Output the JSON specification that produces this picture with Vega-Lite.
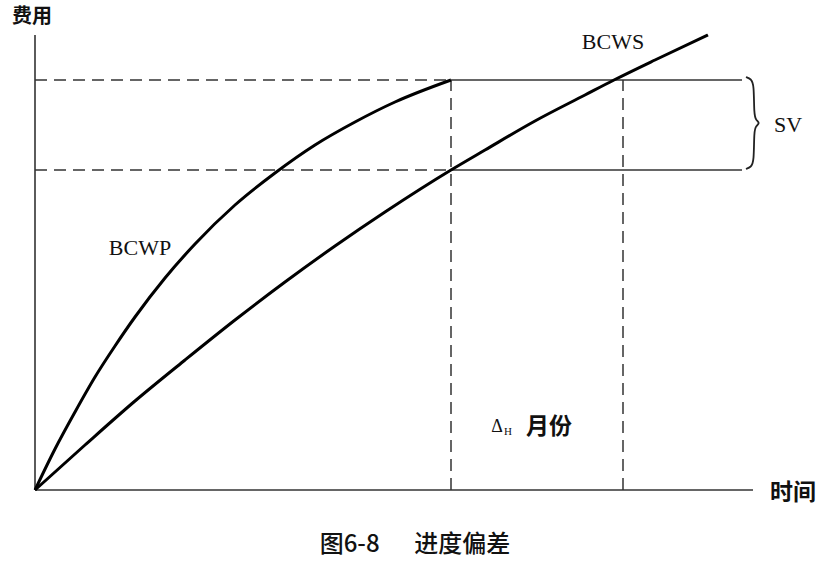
{
  "$schema": "https://vega.github.io/schema/vega-lite/v6.json",
  "width": 830,
  "height": 565,
  "padding": 0,
  "autosize": {"type": "none"},
  "background": "white",
  "config": {"view": {"stroke": null}},
  "datasets": {
    "axes": [
      {"x": 0, "y": 0, "x2": 0, "y2": 455},
      {"x": 0, "y": 0, "x2": 718, "y2": 0}
    ],
    "dashed": [
      {"x": 0, "y": 410, "x2": 416, "y2": 410},
      {"x": 0, "y": 320, "x2": 416, "y2": 320},
      {"x": 416, "y": 0, "x2": 416, "y2": 410},
      {"x": 588, "y": 0, "x2": 588, "y2": 410}
    ],
    "solid": [
      {"x": 416, "y": 410, "x2": 707, "y2": 410},
      {"x": 416, "y": 320, "x2": 707, "y2": 320}
    ],
    "curves": [
      {"series": "BCWP", "t": 0, "cost": 0},
      {"series": "BCWP", "t": 20, "cost": 41},
      {"series": "BCWP", "t": 40, "cost": 78},
      {"series": "BCWP", "t": 60, "cost": 113},
      {"series": "BCWP", "t": 80, "cost": 144},
      {"series": "BCWP", "t": 100, "cost": 173},
      {"series": "BCWP", "t": 130, "cost": 212},
      {"series": "BCWP", "t": 160, "cost": 246},
      {"series": "BCWP", "t": 200, "cost": 285},
      {"series": "BCWP", "t": 240, "cost": 317},
      {"series": "BCWP", "t": 280, "cost": 345},
      {"series": "BCWP", "t": 320, "cost": 368},
      {"series": "BCWP", "t": 360, "cost": 388},
      {"series": "BCWP", "t": 416, "cost": 410},
      {"series": "BCWS", "t": 0, "cost": 0},
      {"series": "BCWS", "t": 50, "cost": 45},
      {"series": "BCWS", "t": 100, "cost": 89},
      {"series": "BCWS", "t": 150, "cost": 130},
      {"series": "BCWS", "t": 200, "cost": 170},
      {"series": "BCWS", "t": 250, "cost": 208},
      {"series": "BCWS", "t": 300, "cost": 244},
      {"series": "BCWS", "t": 350, "cost": 278},
      {"series": "BCWS", "t": 416, "cost": 320},
      {"series": "BCWS", "t": 450, "cost": 340},
      {"series": "BCWS", "t": 500, "cost": 369},
      {"series": "BCWS", "t": 550, "cost": 395},
      {"series": "BCWS", "t": 579, "cost": 410},
      {"series": "BCWS", "t": 620, "cost": 430},
      {"series": "BCWS", "t": 673, "cost": 455}
    ],
    "brace": [
      {"i": 0, "x": 711, "y": 413},
      {"i": 1, "x": 716, "y": 411},
      {"i": 2, "x": 719, "y": 406},
      {"i": 3, "x": 719, "y": 375},
      {"i": 4, "x": 721, "y": 370},
      {"i": 5, "x": 725, "y": 367},
      {"i": 6, "x": 721, "y": 364},
      {"i": 7, "x": 719, "y": 359},
      {"i": 8, "x": 719, "y": 328},
      {"i": 9, "x": 716, "y": 323},
      {"i": 10, "x": 711, "y": 321}
    ],
    "serifLabels": [
      {"x": 105, "y": 242, "label": "BCWP"},
      {"x": 578, "y": 448, "label": "BCWS"},
      {"x": 753, "y": 365, "label": "SV"}
    ],
    "yTitle": [{"x": -3, "y": 473, "label": "费用"}],
    "cjkLabels": [
      {"x": 758, "y": -3, "label": "时间"},
      {"x": 514, "y": 63, "label": "月份"}
    ],
    "delta": [{"x": 462, "y": 63, "label": "Δ"}],
    "sub": [{"x": 473, "y": 58, "label": "H"}],
    "caption": [{"x": 380, "y": -55, "label": "图6-8\u3000\u00a0\u00a0进度偏差"}]
  },
  "layer": [
    {
      "data": {"name": "axes"},
      "mark": {"type": "rule", "color": "#333", "strokeWidth": 1.6},
      "encoding": {
        "x": {"field": "x", "type": "quantitative", "scale": {"domain": [-35, 795], "nice": false, "zero": false}, "axis": null},
        "y": {"field": "y", "type": "quantitative", "scale": {"domain": [-75, 490], "nice": false, "zero": false}, "axis": null},
        "x2": {"field": "x2"},
        "y2": {"field": "y2"}
      }
    },
    {
      "data": {"name": "dashed"},
      "mark": {"type": "rule", "color": "#333", "strokeWidth": 1.5, "strokeDash": [12, 7]},
      "encoding": {
        "x": {"field": "x", "type": "quantitative"},
        "y": {"field": "y", "type": "quantitative"},
        "x2": {"field": "x2"},
        "y2": {"field": "y2"}
      }
    },
    {
      "data": {"name": "solid"},
      "mark": {"type": "rule", "color": "#333", "strokeWidth": 1.5},
      "encoding": {
        "x": {"field": "x", "type": "quantitative"},
        "y": {"field": "y", "type": "quantitative"},
        "x2": {"field": "x2"},
        "y2": {"field": "y2"}
      }
    },
    {
      "data": {"name": "curves"},
      "mark": {"type": "line", "color": "#000", "strokeWidth": 3, "interpolate": "monotone"},
      "encoding": {
        "x": {"field": "t", "type": "quantitative"},
        "y": {"field": "cost", "type": "quantitative"},
        "detail": {"field": "series"}
      }
    },
    {
      "data": {"name": "brace"},
      "mark": {"type": "line", "color": "#222", "strokeWidth": 1.8, "interpolate": "basis"},
      "encoding": {
        "x": {"field": "x", "type": "quantitative"},
        "y": {"field": "y", "type": "quantitative"},
        "order": {"field": "i", "type": "quantitative"}
      }
    },
    {
      "data": {"name": "serifLabels"},
      "mark": {"type": "text", "font": "Liberation Serif", "fontSize": 22, "color": "#111", "align": "center", "baseline": "middle"},
      "encoding": {
        "x": {"field": "x", "type": "quantitative"},
        "y": {"field": "y", "type": "quantitative"},
        "text": {"field": "label"}
      }
    },
    {
      "data": {"name": "yTitle"},
      "mark": {"type": "text", "font": "Noto Sans CJK SC", "fontSize": 20, "fontWeight": "bold", "color": "#111", "align": "center", "baseline": "middle"},
      "encoding": {
        "x": {"field": "x", "type": "quantitative"},
        "y": {"field": "y", "type": "quantitative"},
        "text": {"field": "label"}
      }
    },
    {
      "data": {"name": "cjkLabels"},
      "mark": {"type": "text", "font": "Noto Sans CJK SC", "fontSize": 23, "fontWeight": "bold", "color": "#111", "align": "center", "baseline": "middle"},
      "encoding": {
        "x": {"field": "x", "type": "quantitative"},
        "y": {"field": "y", "type": "quantitative"},
        "text": {"field": "label"}
      }
    },
    {
      "data": {"name": "delta"},
      "mark": {"type": "text", "font": "Liberation Serif", "fontSize": 18, "color": "#111", "align": "center", "baseline": "middle"},
      "encoding": {
        "x": {"field": "x", "type": "quantitative"},
        "y": {"field": "y", "type": "quantitative"},
        "text": {"field": "label"}
      }
    },
    {
      "data": {"name": "sub"},
      "mark": {"type": "text", "font": "Liberation Serif", "fontSize": 11, "color": "#111", "align": "center", "baseline": "middle"},
      "encoding": {
        "x": {"field": "x", "type": "quantitative"},
        "y": {"field": "y", "type": "quantitative"},
        "text": {"field": "label"}
      }
    },
    {
      "data": {"name": "caption"},
      "mark": {"type": "text", "font": "Noto Sans CJK SC", "fontSize": 24, "fontWeight": 500, "color": "#111", "align": "center", "baseline": "middle"},
      "encoding": {
        "x": {"field": "x", "type": "quantitative"},
        "y": {"field": "y", "type": "quantitative"},
        "text": {"field": "label"}
      }
    }
  ]
}
